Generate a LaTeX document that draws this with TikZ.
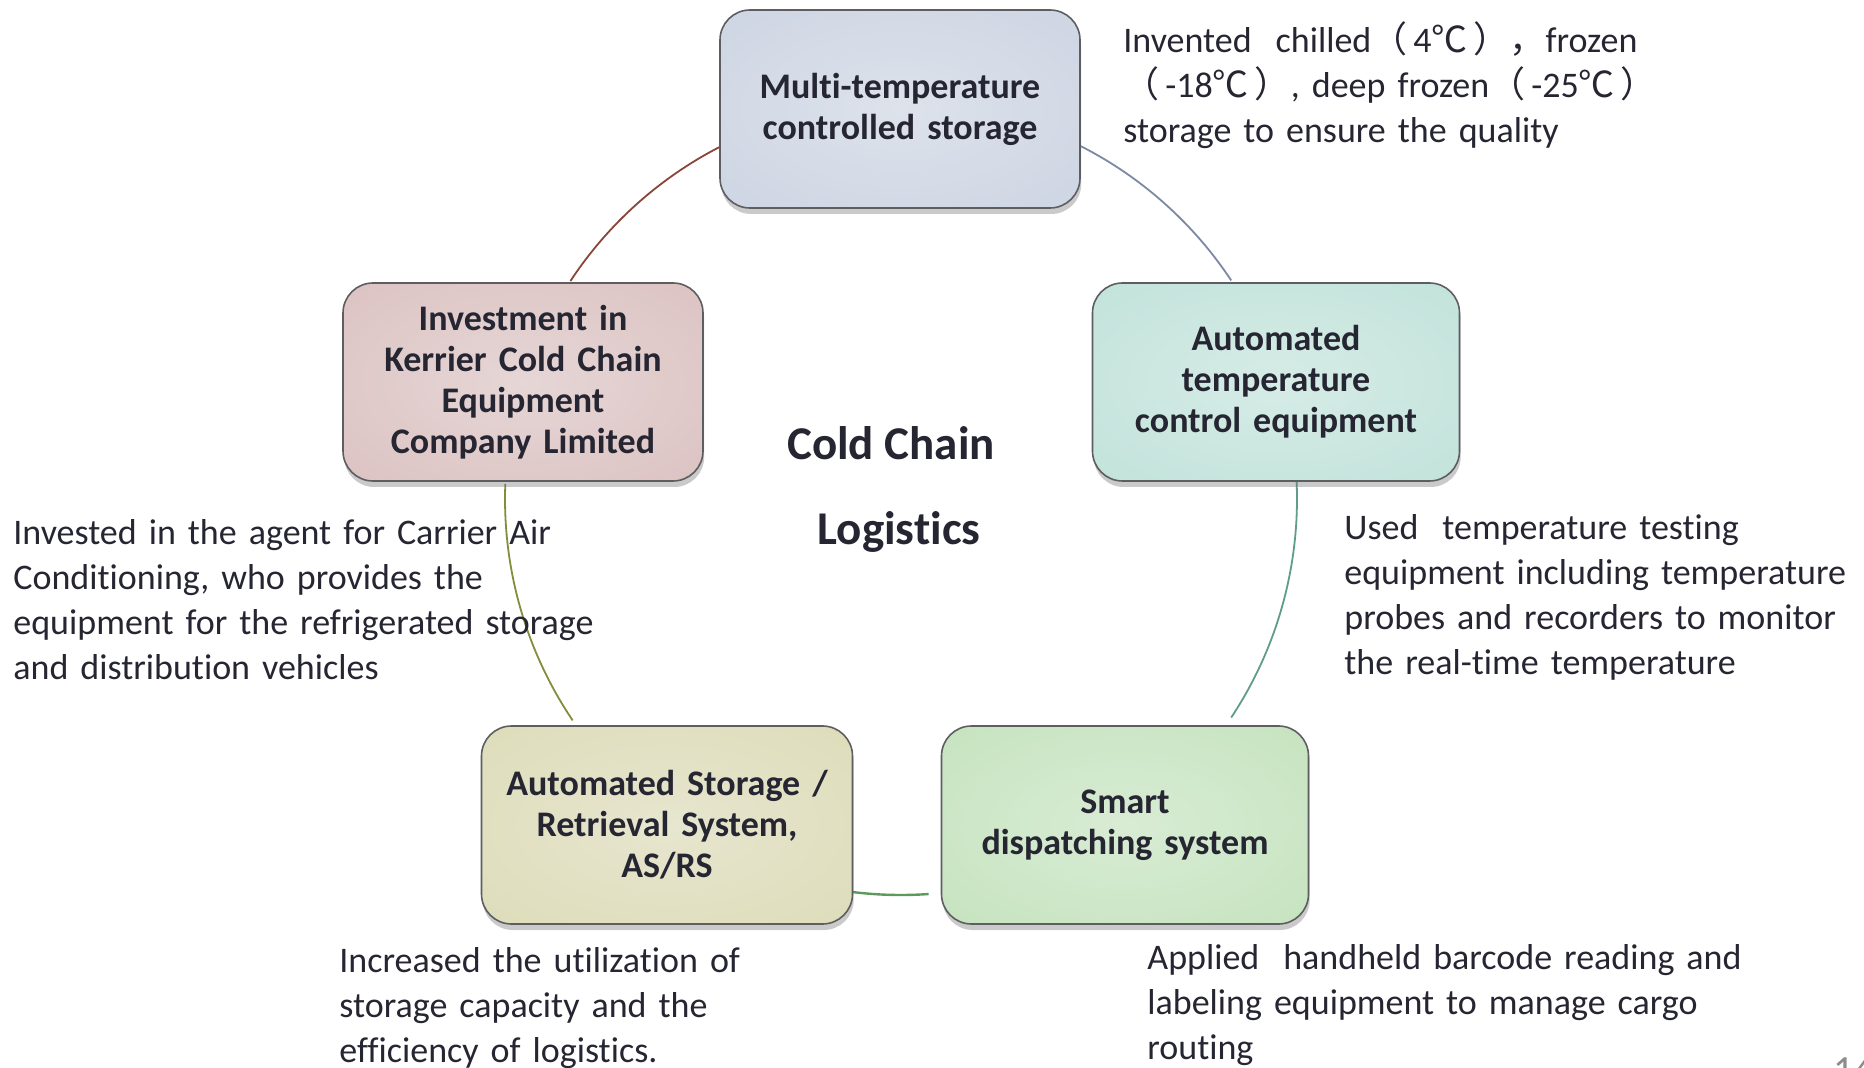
\documentclass[tikz,border=0pt]{standalone}
\usepackage{fontspec}
\setmainfont{Carlito}[Ligatures=NoCommon]
\newfontfamily\cjkf{Noto Sans CJK SC}
\usetikzlibrary{shadows}
\definecolor{txt}{HTML}{262633}
\definecolor{boxline}{HTML}{5E5E62}
\definecolor{topIn}{HTML}{DDE2EB}\definecolor{topOut}{HTML}{BFC9DB}
\definecolor{rgtIn}{HTML}{D6ECE6}\definecolor{rgtOut}{HTML}{AEDACF}
\definecolor{lftIn}{HTML}{E6D6D6}\definecolor{lftOut}{HTML}{D2B0AF}
\definecolor{asrIn}{HTML}{E7E6CF}\definecolor{asrOut}{HTML}{D4D3A5}
\definecolor{smtIn}{HTML}{D8ECD4}\definecolor{smtOut}{HTML}{B4DBAB}
\definecolor{arcAc}{HTML}{8A4538}
\definecolor{arcBc}{HTML}{7B89A3}
\definecolor{arcCc}{HTML}{5F9C8C}
\definecolor{arcDc}{HTML}{5C9A5C}
\definecolor{arcEc}{HTML}{858C3A}
\pgfdeclareradialshading{shTop}{\pgfpoint{0bp}{0bp}}{color(0bp)=(topIn); color(70bp)=(topOut)}
\pgfdeclareradialshading{shRgt}{\pgfpoint{0bp}{0bp}}{color(0bp)=(rgtIn); color(70bp)=(rgtOut)}
\pgfdeclareradialshading{shLft}{\pgfpoint{0bp}{0bp}}{color(0bp)=(lftIn); color(70bp)=(lftOut)}
\pgfdeclareradialshading{shAsr}{\pgfpoint{0bp}{0bp}}{color(0bp)=(asrIn); color(70bp)=(asrOut)}
\pgfdeclareradialshading{shSmt}{\pgfpoint{0bp}{0bp}}{color(0bp)=(smtIn); color(70bp)=(smtOut)}
\newcommand{\lp}{{\cjkf （}\hspace{3pt}}
\newcommand{\rp}{\hspace{3pt}{\cjkf ）}}
\newcommand{\degc}{{\cjkf ℃}}
\begin{document}
\begin{tikzpicture}[x=0.5pt,y=0.5pt,
  box/.style={rounded corners=15pt, draw=boxline, line width=0.8pt,
    minimum width=180pt, minimum height=99pt, text width=170pt, align=center,
    font=\bfseries\fontsize{18}{20.5}\selectfont, text=txt,
    drop shadow={shadow xshift=0.6pt, shadow yshift=-3pt, opacity=0.35, fill=black!60}},
  desc/.style={anchor=base west, text width=300pt, align=left, inner sep=0pt,
    font=\fontsize{18}{22.5}\selectfont, text=txt},
  title/.style={anchor=base, inner sep=0pt, font=\bfseries\fontsize{23.5}{28}\selectfont, text=txt},
  arcline/.style={line width=0.9pt}]
\useasboundingbox (0,0) rectangle (1864,1067);

% cycle arcs (drawn first, boxes cover their ends)
\coordinate (ctr) at (901,568);
\draw[arcline, arcAc] ([shift={(117:396)}]ctr) arc[start angle=117, end angle=146.6, radius=396];
\draw[arcline, arcBc] ([shift={(63:396)}]ctr) arc[start angle=63, end angle=33.5, radius=396];
\draw[arcline, arcCc] ([shift={(2.6:396)}]ctr) arc[start angle=2.6, end angle=-33.5, radius=396];
\draw[arcline, arcDc, line width=1.2pt] ([shift={(-86:396)}]ctr) arc[start angle=-86, end angle=-97, radius=396];
\draw[arcline, arcEc] ([shift={(-146:396)}]ctr) arc[start angle=-146, end angle=-182.2, radius=396];

% boxes
\node[box, shading=shTop] (top) at (900,958) {Multi-temperature\\controlled storage};
\node[box, shading=shRgt, minimum width=183.5pt] (rgt) at (1276,685) {Automated\\temperature\\control equipment};
\node[box, shading=shLft] (lft) at (523,685) {Investment in\\Kerrier Cold Chain\\Equipment\\Company Limited};
\node[box, shading=shAsr, minimum width=185.5pt] (asr) at (667,242) {Automated Storage /\\Retrieval System,\\AS/RS};
\node[box, shading=shSmt, minimum width=183.5pt] (smt) at (1125,242) {Smart\\dispatching system};

% centre title
\node[title] (cc) at (891,607) {Cold Chain};
\node[title] (lg) at (899,522) {Logistics};

% descriptions
\node[desc] (dtop) at (1123,1014) {Invented\ \ chilled\lp 4\degc\rp{\cjkf ，}frozen\\\lp-18\degc\rp, deep frozen\lp-25\degc\rp\\storage to ensure the quality};
\node[desc] (dlft) at (13,522) {Invested in the agent for Carrier Air\\Conditioning, who provides the\\equipment for the refrigerated storage\\and distribution vehicles};
\node[desc] (drgt) at (1344,527) {Used\ \ temperature testing\\equipment including temperature\\probes and recorders to monitor\\the real-time temperature};
\node[desc] (dasr) at (339,95) {Increased the utilization of\\storage capacity and the\\efficiency of logistics.};
\node[desc] (dsmt) at (1147,98) {Applied\ \ handheld barcode reading and\\labeling equipment to manage cargo\\routing};

% page number (cut off at the bottom edge, as in the original slide)
\node[anchor=base west, inner sep=0pt, font=\fontsize{20}{24}\selectfont, text=black!45] (pg) at (1833,-16) {14};
\end{tikzpicture}
\end{document}
